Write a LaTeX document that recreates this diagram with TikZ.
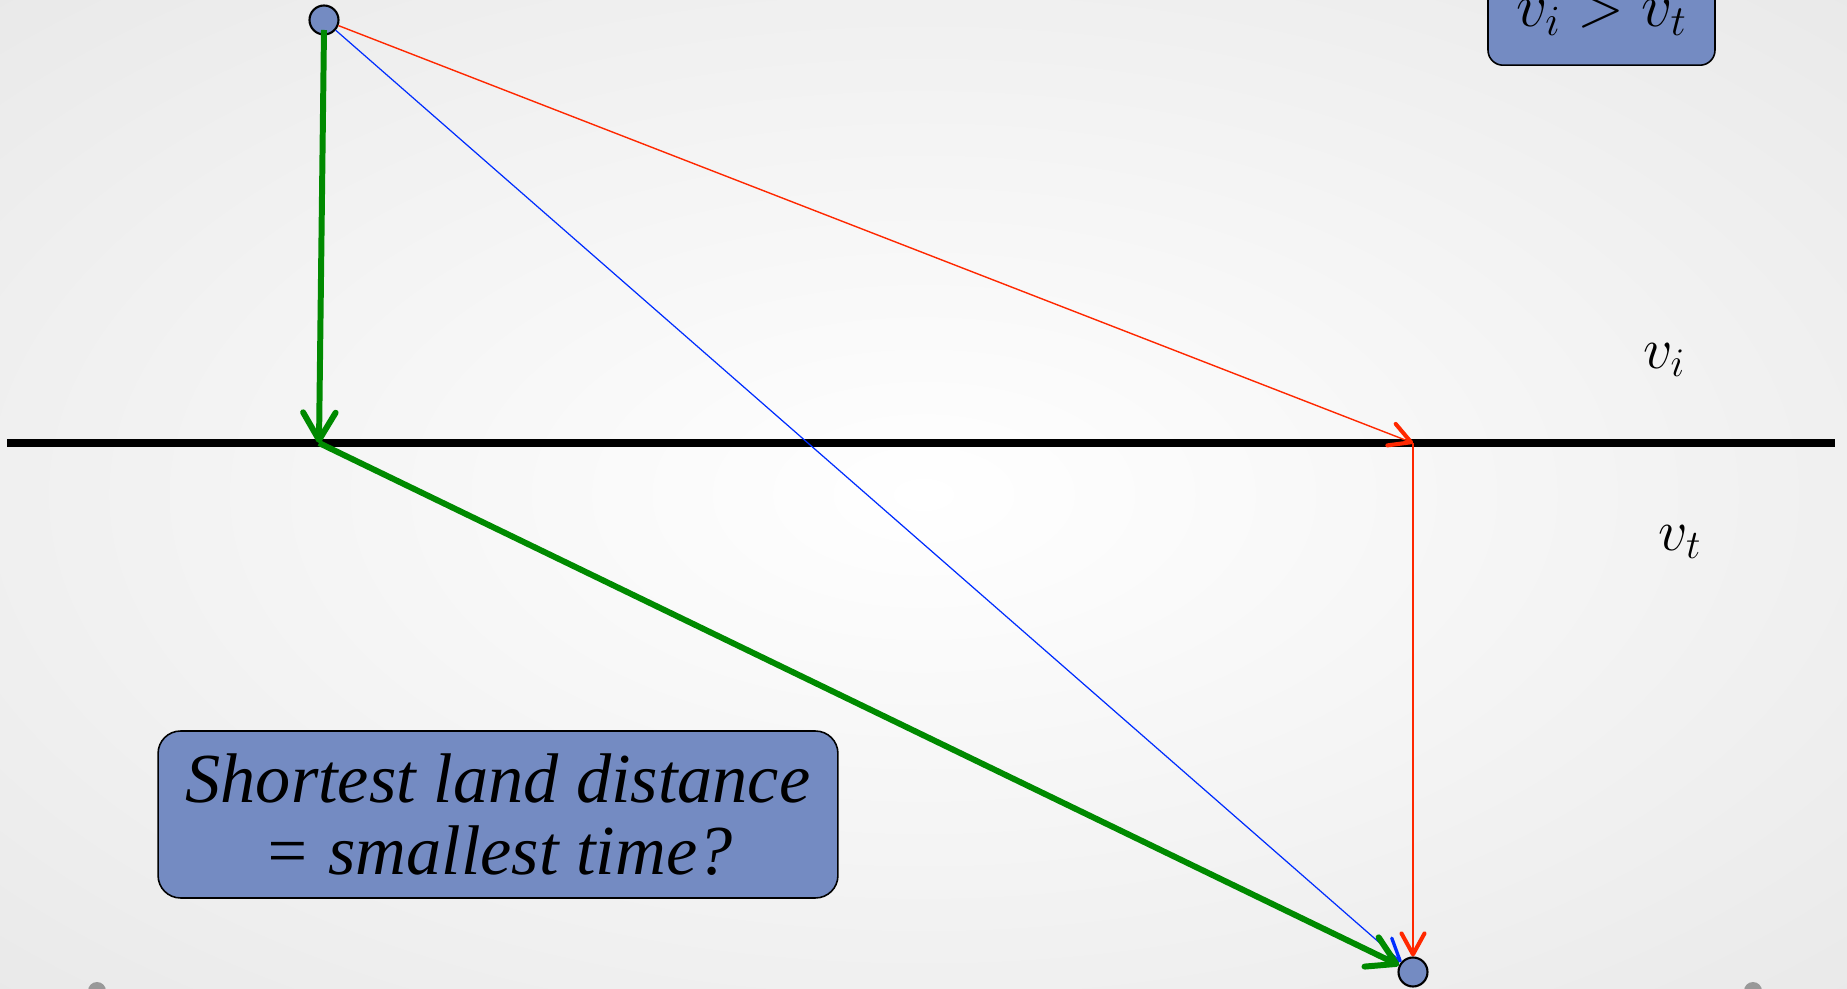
\RequirePackage{fix-cm}
\documentclass[tikz,border=0pt]{standalone}
\usepackage{amsmath}
\usepackage{fontspec}
\setmainfont{Liberation Serif}
\usepackage{tikz}
\usetikzlibrary{arrows.meta, positioning, calc}
\definecolor{azulcaixa}{RGB}{116,139,194}
\definecolor{verdecam}{RGB}{0,138,0}
\definecolor{azulcam}{RGB}{0,45,255}
\definecolor{vermcam}{RGB}{255,40,0}
\tikzset{
    ponto/.style     = {circle, draw=black, fill=azulcaixa, line width=1.2pt,
                        minimum size=0.58cm, inner sep=0pt},
    caixa/.style     = {draw=black, fill=azulcaixa, rounded corners=0.45cm,
                        line width=0.9pt, align=center},
    fronteira/.style = {line width=5pt, black},
    meio/.style      = {font=\fontsize{33}{40}\selectfont},
    nav/.style       = {circle, fill=black!40, minimum size=0.36cm, inner sep=0pt},
}
\tikzset{
    rapido/.style = {-{Straight Barb[length=5.5mm, width=6.5mm, line width=3.4pt, round]},
                     line width=3.4pt, verdecam},
    reto/.style   = {-{Straight Barb[length=4.2mm, width=4.6mm, line width=1.9pt, round]},
                     line width=0.7pt, azulcam},
    desvio/.style = {-{Straight Barb[length=4.2mm, width=4.6mm, line width=2.3pt, round]},
                     line width=0.8pt, vermcam},
}

\begin{document}
\begin{tikzpicture}[x=0.02cm, y=-0.02cm]
    \useasboundingbox (0,0) rectangle (1847,989);
    \clip (0,0) rectangle (1847,989);
    \fill[inner color=white, outer color=black!12] (-923,-494) rectangle (2770,1483);

    % fronteira entre os dois meios
    \coordinate (esq) at (7,443);
    \coordinate (dir) at (1835,443);
    \draw[fronteira] (esq) -- (dir);

    \node[ponto] (topo) at (324,20) {};
    \node[ponto] (fim)  at (1413,972) {};
    \coordinate (quebraV) at (319,443);
    \coordinate (quebraR) at (1413,443);

    % caminhos
    \draw[desvio] (topo) -- (quebraR);
    \draw[desvio] (quebraR) -- (fim);
    \draw[reto] (topo) -- (fim);
    \draw[rapido] ($(topo)+(0,10)$) -- (quebraV);
    \draw[rapido] (quebraV) -- (fim);

    \node[meio] (vi) at (1664,360) {$v_i$};
    \node[meio] (vt) at (1680,542) {$v_t$};

    \node[caixa, anchor=south, minimum width=4.54cm, inner sep=0.15cm,
          font=\fontsize{35}{42}\selectfont,
          text height=1.2cm, text depth=0.63cm, rounded corners=0.3cm] (cond) at (1601.5,66)
        {$v_i > v_t$};

    \node[caixa, minimum width=13.6cm, minimum height=3.34cm,
          font=\fontsize{40}{41}\selectfont\itshape] (pergunta) at (498,814.5)
        {Shortest land distance\\= smallest time?};

    \node[nav] (nav1) at (97,991) {};
    \node[nav] (nav2) at (1753,991) {};
\end{tikzpicture}
\end{document}
